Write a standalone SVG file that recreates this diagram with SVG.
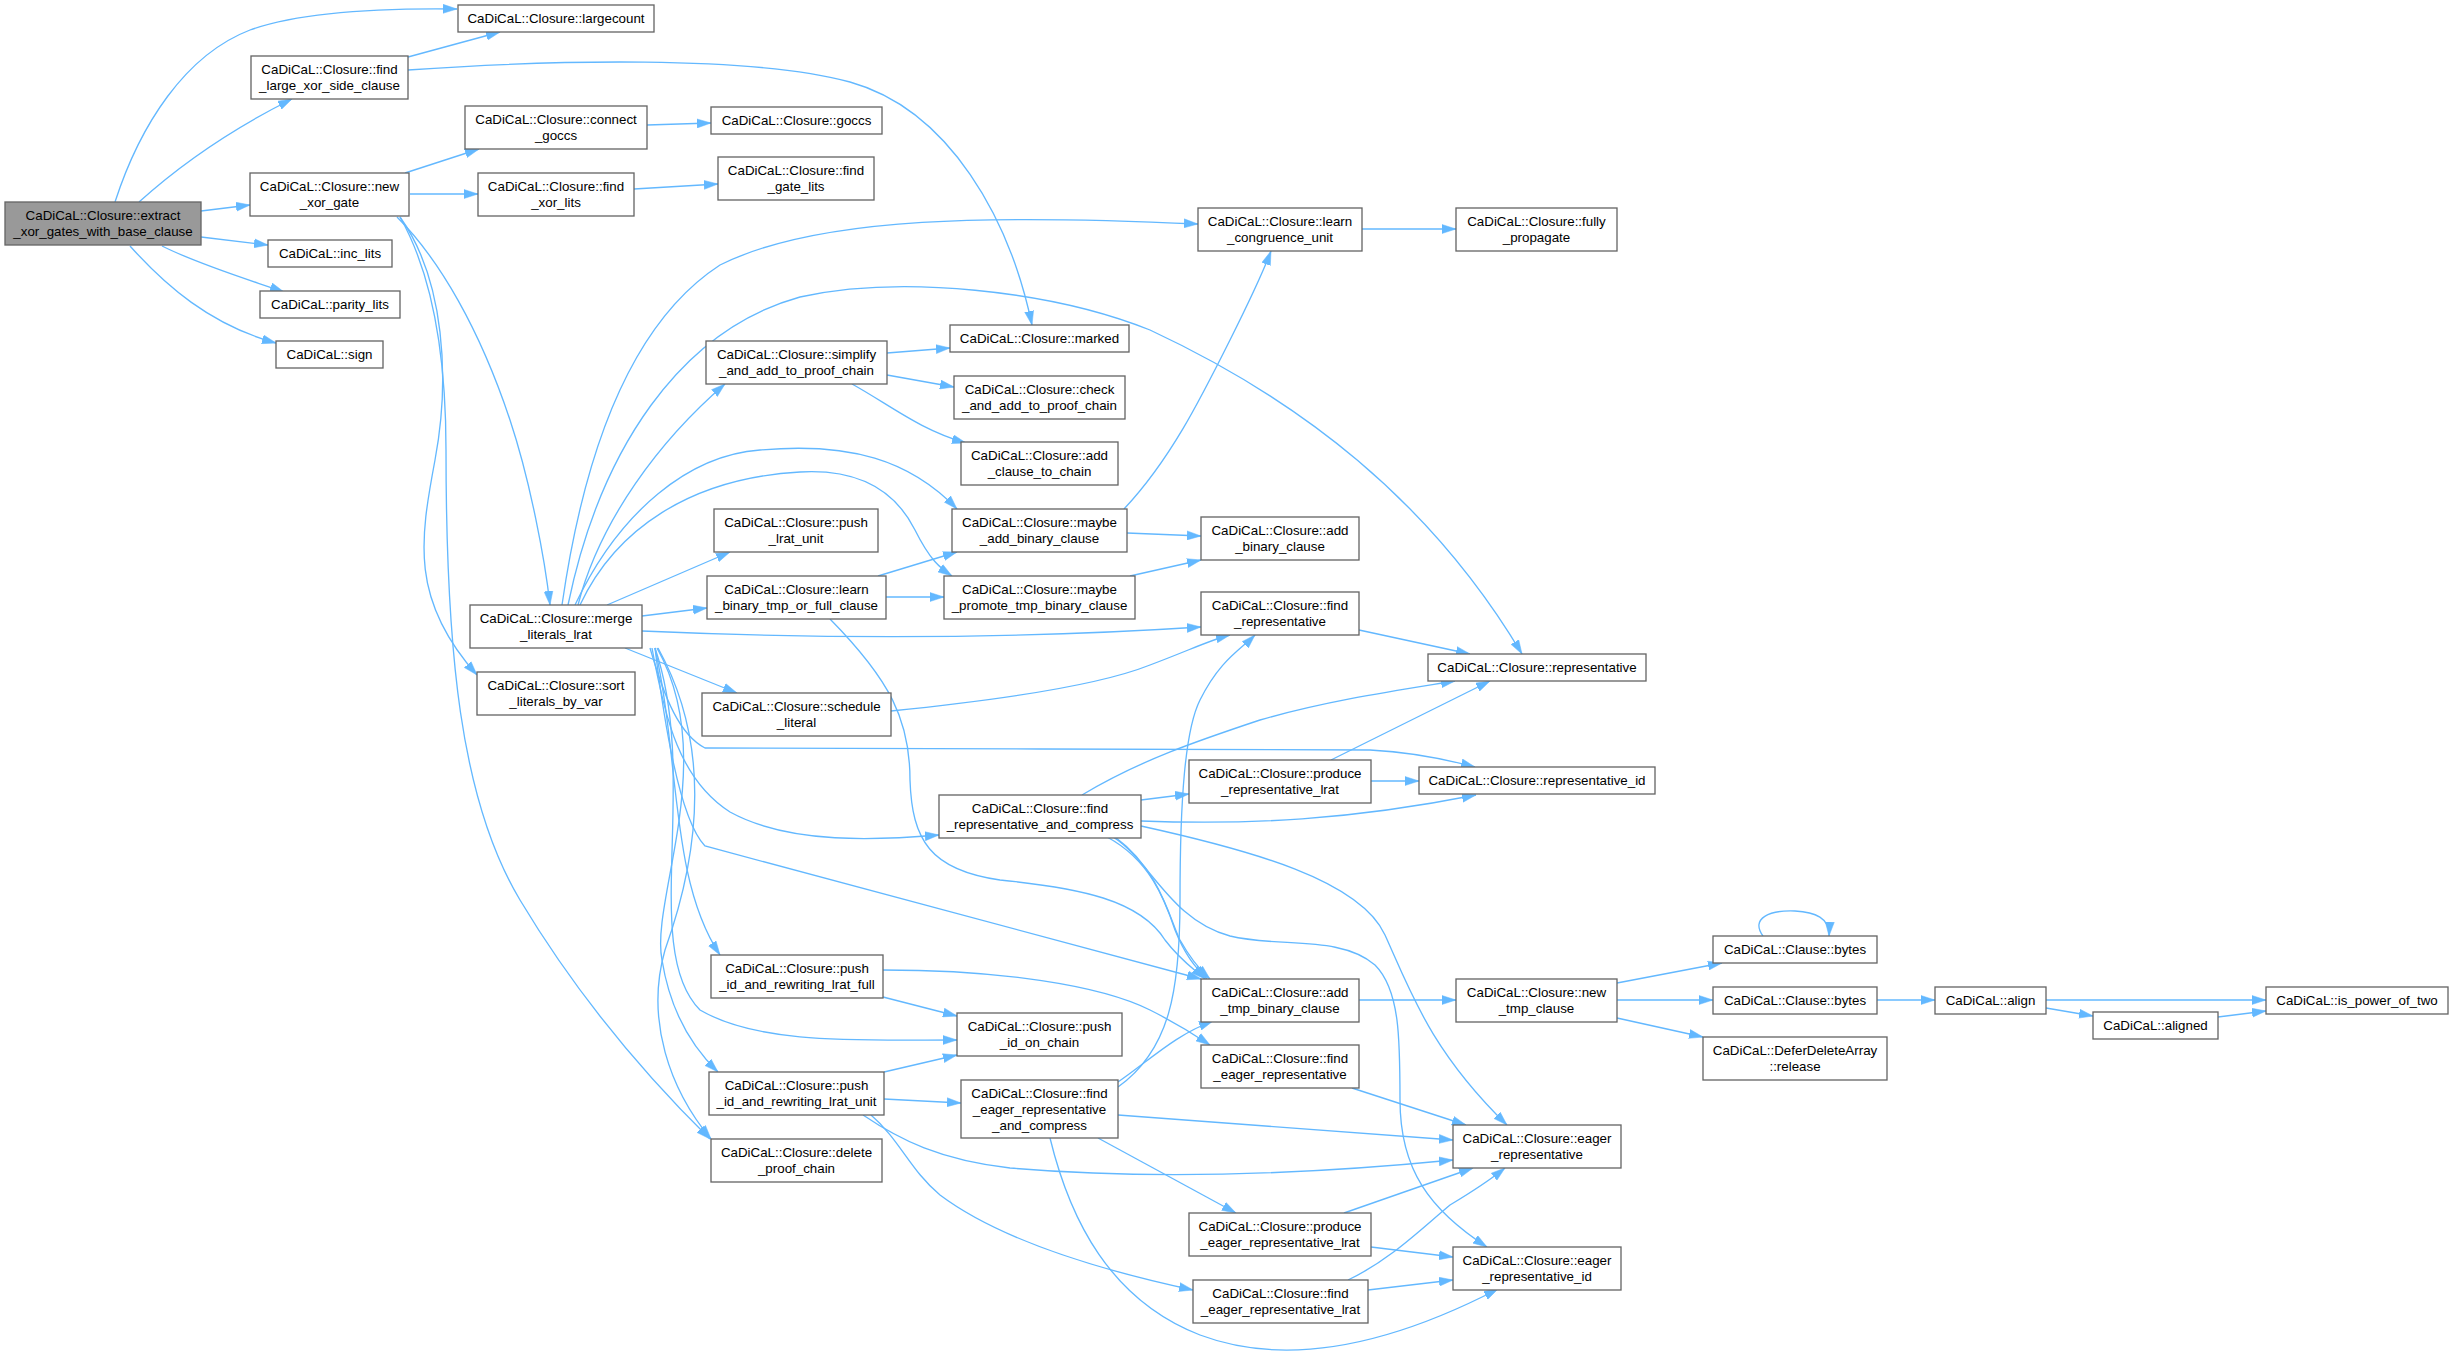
<svg xmlns="http://www.w3.org/2000/svg" width="2452" height="1362" viewBox="0 0 2452 1362">
<style>
.n rect{fill:#fff;stroke:#666;stroke-width:1.33}
.n.root rect{fill:#999}
text{font-family:"Liberation Sans",Arial,Helvetica,sans-serif;font-size:13.33px;text-anchor:middle;fill:#000}
#edges path{fill:none;stroke:#63B8FF;stroke-width:1.33;marker-end:url(#ah)}
</style>
<defs>
<marker id="ah" markerUnits="userSpaceOnUse" markerWidth="14" markerHeight="10" refX="14" refY="4.5" orient="auto" viewBox="0 0 14 9">
<path d="M0,0 L14,4.5 L0,9 z" fill="#63B8FF" stroke="#63B8FF" stroke-width="0.5"/>
</marker>
</defs>
<rect width="2452" height="1362" fill="#fff"/>
<g id="edges">
<path d="M115,202 C140,125 185,55 250,30 C300,12 380,8 457,9"/>
<path d="M139,202 C180,165 230,130 292,99"/>
<path d="M201,211 L250,205"/>
<path d="M201,237 L268,245"/>
<path d="M162,246 C200,265 250,280 284,292"/>
<path d="M130,246 C165,285 210,325 276,343"/>
<path d="M408,57 L500,32"/>
<path d="M408,70 C550,60 750,55 850,82 C950,110 1010,220 1032,325"/>
<path d="M405,173 L479,149"/>
<path d="M410,194 L478,194"/>
<path d="M647,125 L711,123"/>
<path d="M634,189 L718,184"/>
<path d="M397,217 C440,260 480,330 510,420 C530,480 545,560 550,605"/>
<path d="M400,217 C445,280 450,380 435,460 C420,540 410,600 477,675"/>
<path d="M400,217 C430,270 446,350 446,450 C446,650 460,800 520,900 C580,1000 650,1080 710,1139"/>
<path d="M562,605 C580,480 620,330 720,265 C820,215 1000,215 1198,224"/>
<path d="M568,605 C600,450 680,330 800,297 C900,275 1050,290 1150,330 C1300,400 1430,500 1522,654"/>
<path d="M578,605 C600,520 660,440 725,384"/>
<path d="M575,605 C620,510 690,455 760,450 C850,442 910,460 957,509"/>
<path d="M580,605 C615,530 690,478 800,472 C870,468 900,500 915,530 C930,560 940,568 952,576"/>
<path d="M607,605 L730,552"/>
<path d="M642,616 L707,608"/>
<path d="M642,631 C800,638 1000,640 1201,627"/>
<path d="M625,648 L737,693"/>
<path d="M650,648 C665,700 680,735 705,748 C720,750 1300,748 1370,750 C1410,752 1445,759 1475,767"/>
<path d="M652,648 C665,720 680,780 730,812 C790,845 880,840 939,835"/>
<path d="M655,648 C665,730 680,820 705,846 L1201,979"/>
<path d="M655,648 C680,760 670,880 720,955"/>
<path d="M655,648 C700,780 640,950 700,1010 C760,1045 860,1040 957,1040"/>
<path d="M657,648 C720,760 650,900 662,960 C670,1010 690,1045 718,1072"/>
<path d="M658,648 C720,760 690,880 665,950 C645,1020 670,1090 711,1139"/>
<path d="M887,353 L950,348"/>
<path d="M887,375 L954,387"/>
<path d="M852,384 C890,405 920,430 966,443"/>
<path d="M1127,533 L1201,536"/>
<path d="M1124,509 C1170,460 1200,400 1230,340 C1250,300 1262,275 1271,251"/>
<path d="M1130,576 L1201,560"/>
<path d="M878,576 L957,552"/>
<path d="M886,597 L944,597"/>
<path d="M830,619 C890,680 910,720 910,780 C912,840 930,870 1000,880 C1080,888 1140,900 1165,940 C1180,960 1195,970 1205,979"/>
<path d="M891,711 C1000,700 1100,685 1150,665 C1190,650 1210,640 1230,635"/>
<path d="M1359,630 L1470,654"/>
<path d="M1082,795 C1140,760 1200,740 1260,720 C1330,700 1400,690 1455,681"/>
<path d="M1141,800 L1189,794"/>
<path d="M1141,821 C1250,825 1350,820 1476,795"/>
<path d="M1141,826 C1250,850 1360,880 1385,935 C1410,990 1430,1050 1507,1125"/>
<path d="M1107,837 C1150,860 1165,900 1175,930 C1185,955 1195,967 1207,979"/>
<path d="M1115,837 C1160,870 1170,920 1180,940 C1190,958 1200,970 1210,979"/>
<path d="M1113,837 C1150,860 1170,920 1230,936 C1280,948 1340,935 1375,965 C1400,990 1400,1040 1400,1100 C1400,1170 1430,1210 1487,1247"/>
<path d="M1331,760 L1490,681"/>
<path d="M1371,781 L1419,781"/>
<path d="M1359,1000 L1456,1000"/>
<path d="M1617,983 L1722,963"/>
<path d="M1617,1000 L1713,1000"/>
<path d="M1617,1018 L1703,1037"/>
<path d="M1763,936 C1750,918 1770,910 1795,911 C1815,912 1830,918 1829,936"/>
<path d="M1877,1000 L1935,1000"/>
<path d="M2046,1000 L2266,1000"/>
<path d="M2046,1008 L2093,1016"/>
<path d="M2218,1017 L2266,1011"/>
<path d="M883,997 L957,1016"/>
<path d="M883,970 C1000,970 1100,985 1150,1010 C1180,1025 1195,1035 1210,1045"/>
<path d="M884,1072 L957,1055"/>
<path d="M884,1099 L961,1103"/>
<path d="M863,1115 C900,1140 940,1160 1010,1168 C1150,1180 1300,1175 1453,1160"/>
<path d="M871,1115 C900,1140 910,1170 940,1195 C1000,1240 1100,1270 1193,1290"/>
<path d="M1118,1082 C1150,1060 1175,1035 1213,1021"/>
<path d="M1118,1087 C1170,1050 1180,990 1180,900 C1180,800 1185,730 1200,700 C1220,660 1240,650 1255,635"/>
<path d="M1118,1115 L1453,1140"/>
<path d="M1098,1138 L1236,1213"/>
<path d="M1050,1138 C1070,1220 1110,1300 1200,1335 C1280,1365 1380,1350 1498,1289"/>
<path d="M1352,1088 L1466,1125"/>
<path d="M1344,1213 L1473,1168"/>
<path d="M1371,1247 L1453,1257"/>
<path d="M1348,1280 C1390,1260 1420,1230 1450,1205 C1475,1190 1490,1180 1505,1168"/>
<path d="M1368,1290 L1453,1280"/>
<path d="M1362,229 L1456,229"/>
</g>
<g id="n0" class="n root"><rect x="5" y="202" width="196" height="43"/><text x="103" y="220">CaDiCaL::Closure::extract</text><text x="103" y="236">_xor_gates_with_base_clause</text></g>
<g id="n1" class="n"><rect x="458" y="5" width="196" height="27"/><text x="556" y="23">CaDiCaL::Closure::largecount</text></g>
<g id="n2" class="n"><rect x="251" y="56" width="157" height="43"/><text x="329.5" y="74">CaDiCaL::Closure::find</text><text x="329.5" y="90">_large_xor_side_clause</text></g>
<g id="n3" class="n"><rect x="465" y="106" width="182" height="43"/><text x="556" y="124">CaDiCaL::Closure::connect</text><text x="556" y="140">_goccs</text></g>
<g id="n4" class="n"><rect x="711" y="107" width="171" height="27"/><text x="796.5" y="125">CaDiCaL::Closure::goccs</text></g>
<g id="n5" class="n"><rect x="250" y="173" width="159" height="43"/><text x="329.5" y="191">CaDiCaL::Closure::new</text><text x="329.5" y="207">_xor_gate</text></g>
<g id="n6" class="n"><rect x="478" y="173" width="156" height="43"/><text x="556" y="191">CaDiCaL::Closure::find</text><text x="556" y="207">_xor_lits</text></g>
<g id="n7" class="n"><rect x="718" y="157" width="156" height="43"/><text x="796" y="175">CaDiCaL::Closure::find</text><text x="796" y="191">_gate_lits</text></g>
<g id="n8" class="n"><rect x="268" y="240" width="124" height="27"/><text x="330" y="258">CaDiCaL::inc_lits</text></g>
<g id="n9" class="n"><rect x="260" y="291" width="140" height="27"/><text x="330" y="309">CaDiCaL::parity_lits</text></g>
<g id="n10" class="n"><rect x="276" y="341" width="107" height="27"/><text x="329.5" y="359">CaDiCaL::sign</text></g>
<g id="n11" class="n"><rect x="706" y="341" width="181" height="43"/><text x="796.5" y="359">CaDiCaL::Closure::simplify</text><text x="796.5" y="375">_and_add_to_proof_chain</text></g>
<g id="n12" class="n"><rect x="950" y="325" width="179" height="27"/><text x="1039.5" y="343">CaDiCaL::Closure::marked</text></g>
<g id="n13" class="n"><rect x="954" y="376" width="171" height="43"/><text x="1039.5" y="394">CaDiCaL::Closure::check</text><text x="1039.5" y="410">_and_add_to_proof_chain</text></g>
<g id="n14" class="n"><rect x="961" y="442" width="157" height="43"/><text x="1039.5" y="460">CaDiCaL::Closure::add</text><text x="1039.5" y="476">_clause_to_chain</text></g>
<g id="n15" class="n"><rect x="1198" y="208" width="164" height="43"/><text x="1280" y="226">CaDiCaL::Closure::learn</text><text x="1280" y="242">_congruence_unit</text></g>
<g id="n16" class="n"><rect x="1456" y="208" width="161" height="43"/><text x="1536.5" y="226">CaDiCaL::Closure::fully</text><text x="1536.5" y="242">_propagate</text></g>
<g id="n17" class="n"><rect x="470" y="605" width="172" height="43"/><text x="556" y="623">CaDiCaL::Closure::merge</text><text x="556" y="639">_literals_lrat</text></g>
<g id="n18" class="n"><rect x="477" y="672" width="158" height="43"/><text x="556" y="690">CaDiCaL::Closure::sort</text><text x="556" y="706">_literals_by_var</text></g>
<g id="n19" class="n"><rect x="714" y="509" width="164" height="43"/><text x="796" y="527">CaDiCaL::Closure::push</text><text x="796" y="543">_lrat_unit</text></g>
<g id="n20" class="n"><rect x="707" y="576" width="179" height="43"/><text x="796.5" y="594">CaDiCaL::Closure::learn</text><text x="796.5" y="610">_binary_tmp_or_full_clause</text></g>
<g id="n21" class="n"><rect x="702" y="693" width="189" height="43"/><text x="796.5" y="711">CaDiCaL::Closure::schedule</text><text x="796.5" y="727">_literal</text></g>
<g id="n22" class="n"><rect x="952" y="509" width="175" height="43"/><text x="1039.5" y="527">CaDiCaL::Closure::maybe</text><text x="1039.5" y="543">_add_binary_clause</text></g>
<g id="n23" class="n"><rect x="944" y="576" width="191" height="43"/><text x="1039.5" y="594">CaDiCaL::Closure::maybe</text><text x="1039.5" y="610">_promote_tmp_binary_clause</text></g>
<g id="n24" class="n"><rect x="1201" y="517" width="158" height="43"/><text x="1280" y="535">CaDiCaL::Closure::add</text><text x="1280" y="551">_binary_clause</text></g>
<g id="n25" class="n"><rect x="1201" y="592" width="158" height="43"/><text x="1280" y="610">CaDiCaL::Closure::find</text><text x="1280" y="626">_representative</text></g>
<g id="n26" class="n"><rect x="1428" y="654" width="218" height="27"/><text x="1537" y="672">CaDiCaL::Closure::representative</text></g>
<g id="n27" class="n"><rect x="1419" y="767" width="236" height="27"/><text x="1537" y="785">CaDiCaL::Closure::representative_id</text></g>
<g id="n28" class="n"><rect x="1189" y="760" width="182" height="43"/><text x="1280" y="778">CaDiCaL::Closure::produce</text><text x="1280" y="794">_representative_lrat</text></g>
<g id="n29" class="n"><rect x="939" y="795" width="202" height="43"/><text x="1040" y="813">CaDiCaL::Closure::find</text><text x="1040" y="829">_representative_and_compress</text></g>
<g id="n30" class="n"><rect x="711" y="955" width="172" height="43"/><text x="797" y="973">CaDiCaL::Closure::push</text><text x="797" y="989">_id_and_rewriting_lrat_full</text></g>
<g id="n31" class="n"><rect x="957" y="1013" width="165" height="43"/><text x="1039.5" y="1031">CaDiCaL::Closure::push</text><text x="1039.5" y="1047">_id_on_chain</text></g>
<g id="n32" class="n"><rect x="709" y="1072" width="175" height="43"/><text x="796.5" y="1090">CaDiCaL::Closure::push</text><text x="796.5" y="1106">_id_and_rewriting_lrat_unit</text></g>
<g id="n33" class="n"><rect x="711" y="1139" width="171" height="43"/><text x="796.5" y="1157">CaDiCaL::Closure::delete</text><text x="796.5" y="1173">_proof_chain</text></g>
<g id="n34" class="n"><rect x="961" y="1080" width="157" height="58"/><text x="1039.5" y="1098">CaDiCaL::Closure::find</text><text x="1039.5" y="1114">_eager_representative</text><text x="1039.5" y="1130">_and_compress</text></g>
<g id="n35" class="n"><rect x="1201" y="979" width="158" height="43"/><text x="1280" y="997">CaDiCaL::Closure::add</text><text x="1280" y="1013">_tmp_binary_clause</text></g>
<g id="n36" class="n"><rect x="1201" y="1045" width="158" height="43"/><text x="1280" y="1063">CaDiCaL::Closure::find</text><text x="1280" y="1079">_eager_representative</text></g>
<g id="n37" class="n"><rect x="1456" y="979" width="161" height="43"/><text x="1536.5" y="997">CaDiCaL::Closure::new</text><text x="1536.5" y="1013">_tmp_clause</text></g>
<g id="n38" class="n"><rect x="1453" y="1125" width="168" height="43"/><text x="1537" y="1143">CaDiCaL::Closure::eager</text><text x="1537" y="1159">_representative</text></g>
<g id="n39" class="n"><rect x="1453" y="1247" width="168" height="43"/><text x="1537" y="1265">CaDiCaL::Closure::eager</text><text x="1537" y="1281">_representative_id</text></g>
<g id="n40" class="n"><rect x="1189" y="1213" width="182" height="43"/><text x="1280" y="1231">CaDiCaL::Closure::produce</text><text x="1280" y="1247">_eager_representative_lrat</text></g>
<g id="n41" class="n"><rect x="1193" y="1280" width="175" height="43"/><text x="1280.5" y="1298">CaDiCaL::Closure::find</text><text x="1280.5" y="1314">_eager_representative_lrat</text></g>
<g id="n42" class="n"><rect x="1713" y="936" width="164" height="27"/><text x="1795" y="954">CaDiCaL::Clause::bytes</text></g>
<g id="n43" class="n"><rect x="1713" y="987" width="164" height="27"/><text x="1795" y="1005">CaDiCaL::Clause::bytes</text></g>
<g id="n44" class="n"><rect x="1703" y="1037" width="184" height="43"/><text x="1795" y="1055">CaDiCaL::DeferDeleteArray</text><text x="1795" y="1071">::release</text></g>
<g id="n45" class="n"><rect x="1935" y="987" width="111" height="27"/><text x="1990.5" y="1005">CaDiCaL::align</text></g>
<g id="n46" class="n"><rect x="2093" y="1012" width="125" height="27"/><text x="2155.5" y="1030">CaDiCaL::aligned</text></g>
<g id="n47" class="n"><rect x="2266" y="987" width="182" height="27"/><text x="2357" y="1005">CaDiCaL::is_power_of_two</text></g>
</svg>
